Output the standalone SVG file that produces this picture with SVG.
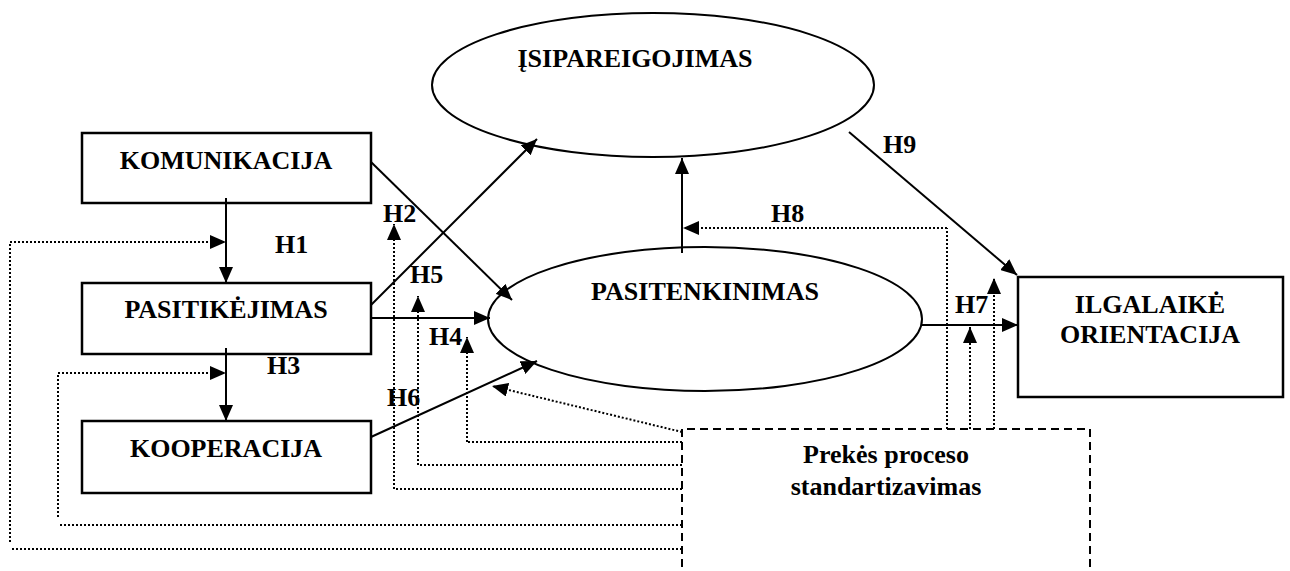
<svg xmlns="http://www.w3.org/2000/svg" width="1290" height="571" viewBox="0 0 1290 571">
  <style>
    .box { fill: #fff; stroke: #000; stroke-width: 2.5; }
    .oval { fill: #fff; stroke: #000; stroke-width: 2; }
    .dash { fill: none; stroke: #000; stroke-width: 2; stroke-dasharray: 8 5; }
    .lbl { font-weight: bold; font-size: 26px; fill: #000; text-anchor: middle; }
    .h { font-weight: bold; font-size: 26px; fill: #000; }
    .solid { fill: none; stroke: #000; stroke-width: 2; marker-end: url(#arrow); }
    .dot { fill: none; stroke: #000; stroke-width: 2; stroke-dasharray: 2 2; }
    .dotarrow { fill: none; stroke: #000; stroke-width: 2; stroke-dasharray: 2 2; marker-end: url(#arrow); }
  </style>
  <defs>
    <marker id="arrow" markerUnits="userSpaceOnUse" markerWidth="16" markerHeight="14" refX="16" refY="7" orient="auto" viewBox="0 0 16 14">
      <path d="M0,0 L16,7 L0,14 z" fill="#000"/>
    </marker>
  </defs>

  <rect width="1290" height="571" fill="#fff"/>

  <g font-family="Liberation Serif, Times New Roman, DejaVu Serif, serif">
  <!-- nodes -->
  <g id="isipareigojimas">
    <ellipse class="oval" cx="653" cy="85" rx="221" ry="72"/>
    <text class="lbl" x="635" y="67">ĮSIPAREIGOJIMAS</text>
  </g>
  <g id="komunikacija">
    <rect class="box" x="82" y="133" width="289" height="70"/>
    <text class="lbl" x="226" y="169">KOMUNIKACIJA</text>
  </g>
  <g id="pasitikejimas">
    <rect class="box" x="82" y="283" width="289" height="71"/>
    <text class="lbl" x="226" y="318">PASITIKĖJIMAS</text>
  </g>
  <g id="kooperacija">
    <rect class="box" x="82" y="421" width="289" height="72"/>
    <text class="lbl" x="226" y="457">KOOPERACIJA</text>
  </g>
  <g id="pasitenkinimas">
    <ellipse class="oval" cx="705" cy="319" rx="217" ry="72"/>
    <text class="lbl" x="705" y="300">PASITENKINIMAS</text>
  </g>
  <g id="ilgalaike-orientacija">
    <rect class="box" x="1018" y="277" width="265" height="120"/>
    <text class="lbl" x="1150" y="313">ILGALAIKĖ</text>
    <text class="lbl" x="1150" y="343">ORIENTACIJA</text>
  </g>
  <g id="prekes-standartizavimas">
    <path class="dash" d="M682,580 L682,429 L1090,429 L1090,580"/>
    <text class="lbl" x="886" y="463">Prekės proceso</text>
    <text class="lbl" x="886" y="495">standartizavimas</text>
  </g>

  <!-- connectors -->
  <g id="connectors">
    <!-- direct effects -->
    <line class="solid" x1="226" y1="198" x2="226" y2="283"/>
    <line class="solid" x1="226" y1="348" x2="226" y2="421"/>
    <line class="solid" x1="371" y1="162" x2="512" y2="300"/>
    <line class="solid" x1="371" y1="305" x2="537" y2="139"/>
    <line class="solid" x1="371" y1="318" x2="490" y2="318"/>
    <line class="solid" x1="371" y1="437" x2="537" y2="361"/>
    <line class="solid" x1="682" y1="253" x2="682" y2="158"/>
    <line class="solid" x1="922" y1="325" x2="1018" y2="325"/>
    <line class="solid" x1="849" y1="132" x2="1017" y2="275"/>

    <!-- moderating paths from the standardisation box -->
    <line class="dot" x1="682" y1="549" x2="10" y2="549"/>
    <line class="dot" x1="10" y1="542" x2="10" y2="242"/>
    <line class="dotarrow" x1="10" y1="242" x2="226" y2="242"/>

    <line class="dot" x1="682" y1="525" x2="58" y2="525"/>
    <line class="dot" x1="58" y1="517" x2="58" y2="373"/>
    <line class="dotarrow" x1="58" y1="373" x2="226" y2="373"/>

    <line class="dot" x1="682" y1="489" x2="394" y2="489"/>
    <line class="dotarrow" x1="394" y1="489" x2="394" y2="224"/>

    <line class="dot" x1="682" y1="465" x2="418" y2="465"/>
    <line class="dotarrow" x1="418" y1="465" x2="418" y2="296"/>

    <line class="dot" x1="682" y1="442" x2="467" y2="442"/>
    <line class="dotarrow" x1="467" y1="442" x2="467" y2="337"/>

    <line class="dotarrow" x1="682" y1="432" x2="492" y2="386"/>

    <line class="dot" x1="947" y1="429" x2="947" y2="228"/>
    <line class="dotarrow" x1="947" y1="228" x2="683" y2="228"/>

    <line class="dotarrow" x1="970" y1="429" x2="970" y2="327"/>
    <line class="dotarrow" x1="994" y1="429" x2="994" y2="278"/>

    <!-- hypothesis labels -->
    <text class="h" x="275" y="253">H1</text>
    <text class="h" x="383" y="222">H2</text>
    <text class="h" x="267" y="374">H3</text>
    <text class="h" x="429" y="345">H4</text>
    <text class="h" x="410" y="283">H5</text>
    <text class="h" x="387" y="406">H6</text>
    <text class="h" x="955" y="313">H7</text>
    <text class="h" x="771" y="222">H8</text>
    <text class="h" x="883" y="153">H9</text>
  </g>
  </g>
</svg>
